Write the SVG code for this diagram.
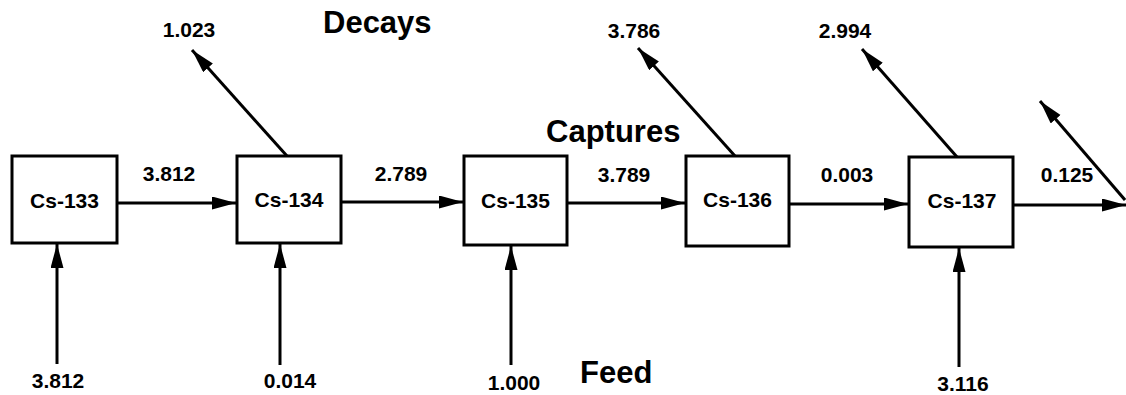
<svg xmlns="http://www.w3.org/2000/svg" width="1126" height="395" viewBox="0 0 1126 395">
<style>
.box{fill:#fff;stroke:#000;stroke-width:3}
.lbl{font-family:"Liberation Sans",Arial,sans-serif;font-weight:bold;font-size:21px;fill:#000;text-anchor:middle}
.title{font-family:"Liberation Sans",Arial,sans-serif;font-weight:bold;font-size:31px;fill:#000}
.conn{stroke:#000;stroke-width:3;fill:none;marker-end:url(#ah)}
</style>
<defs>
<marker id="ah" markerUnits="userSpaceOnUse" markerWidth="26" markerHeight="14" refX="24" refY="6.5" orient="auto">
<path d="M0,0 L24,6.5 L0,13 Z" fill="#000"/>
</marker>
</defs>
<rect width="1126" height="395" fill="#fff"/>
<g id="connectors">
<line class="conn" x1="117" y1="203" x2="236" y2="203"/>
<line class="conn" x1="341" y1="202" x2="463" y2="202"/>
<line class="conn" x1="567" y1="203" x2="685" y2="203"/>
<line class="conn" x1="789" y1="204" x2="908" y2="204"/>
<line class="conn" x1="1013" y1="205" x2="1126" y2="205"/>
<line class="conn" x1="287" y1="156" x2="192" y2="50"/>
<line class="conn" x1="735" y1="156" x2="638" y2="48"/>
<line class="conn" x1="957" y1="157" x2="862" y2="49"/>
<line class="conn" x1="1125" y1="200" x2="1040" y2="101"/>
<line class="conn" x1="57" y1="364" x2="57" y2="244"/>
<line class="conn" x1="280" y1="365" x2="280" y2="244"/>
<line class="conn" x1="511" y1="365" x2="511" y2="246"/>
<line class="conn" x1="959" y1="367" x2="959" y2="248"/>
<text class="lbl" x="169" y="181">3.812</text>
<text class="lbl" x="401" y="181">2.789</text>
<text class="lbl" x="624" y="182">3.789</text>
<text class="lbl" x="847" y="182">0.003</text>
<text class="lbl" x="1067" y="182">0.125</text>
<text class="lbl" x="189" y="37">1.023</text>
<text class="lbl" x="634" y="38">3.786</text>
<text class="lbl" x="845" y="38">2.994</text>
<text class="lbl" x="58" y="388">3.812</text>
<text class="lbl" x="290" y="388">0.014</text>
<text class="lbl" x="514" y="390">1.000</text>
<text class="lbl" x="963" y="391">3.116</text>
</g>
<g id="titles">
<text class="title" x="323" y="33">Decays</text>
<text class="title" x="546" y="142">Captures</text>
<text class="title" x="580" y="383">Feed</text>
</g>
<g id="cs133"><rect class="box" x="12" y="156" width="105" height="87"/><text class="lbl" x="64.5" y="208">Cs-133</text></g>
<g id="cs134"><rect class="box" x="237" y="156" width="104" height="87"/><text class="lbl" x="289" y="207">Cs-134</text></g>
<g id="cs135"><rect class="box" x="464" y="156" width="103" height="89"/><text class="lbl" x="515.5" y="208">Cs-135</text></g>
<g id="cs136"><rect class="box" x="686" y="156" width="103" height="90"/><text class="lbl" x="737.5" y="207">Cs-136</text></g>
<g id="cs137"><rect class="box" x="909" y="157" width="104" height="90"/><text class="lbl" x="962" y="208">Cs-137</text></g>
</svg>
